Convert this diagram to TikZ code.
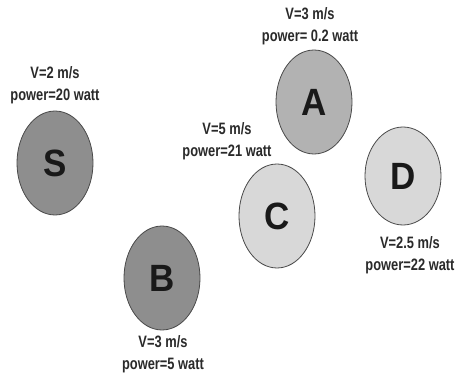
\documentclass[tikz,border=0pt]{standalone}
\usepackage{fontspec}
\usetikzlibrary{shapes.geometric}
\newfontfamily\labfont[FakeStretch=0.78]{Liberation Sans Bold}
\newfontfamily\letfont[FakeStretch=0.92]{Liberation Sans Bold}
\definecolor{darkfill}{HTML}{8E8E8E}
\definecolor{midfill}{HTML}{B2B2B2}
\definecolor{lightfill}{HTML}{D8D8D8}
\definecolor{edge}{HTML}{4A4A4A}
\definecolor{txt}{HTML}{2A2A2A}
\tikzset{
  nd/.style={ellipse, draw=edge, line width=0.8pt, minimum width=76pt, minimum height=104pt, inner sep=0pt,
    font=\letfont\fontsize{38}{40}\selectfont, text=black!90},
  lab/.style={align=center, font=\labfont\fontsize{16.5}{21.5}\selectfont, text=txt, inner sep=0pt}
}
\begin{document}
\begin{tikzpicture}[x=1pt,y=-1pt]
\useasboundingbox[fill=white] (0,0) rectangle (458,379);
\node[nd, fill=darkfill] (S) at (55,163) {S};
\node[nd, fill=midfill] (A) at (314,102) {A};
\node[nd, fill=lightfill] (C) at (277,216) {C};
\node[nd, fill=lightfill, minimum height=98pt] (D) at (403,176) {D};
\node[nd, fill=darkfill] (B) at (162,278) {B};
\node[lab] (Sl) at (55,85) {V=2 m/s\\power=20 watt};
\node[lab] (Al) at (310,26) {V=3 m/s\\power= 0.2 watt};
\node[lab] (Cl) at (227,141) {V=5 m/s\\power=21 watt};
\node[lab] (Dl) at (410,255) {V=2.5 m/s\\power=22 watt};
\node[lab] (Bl) at (163,354) {V=3 m/s\\power=5 watt};
\end{tikzpicture}
\end{document}
